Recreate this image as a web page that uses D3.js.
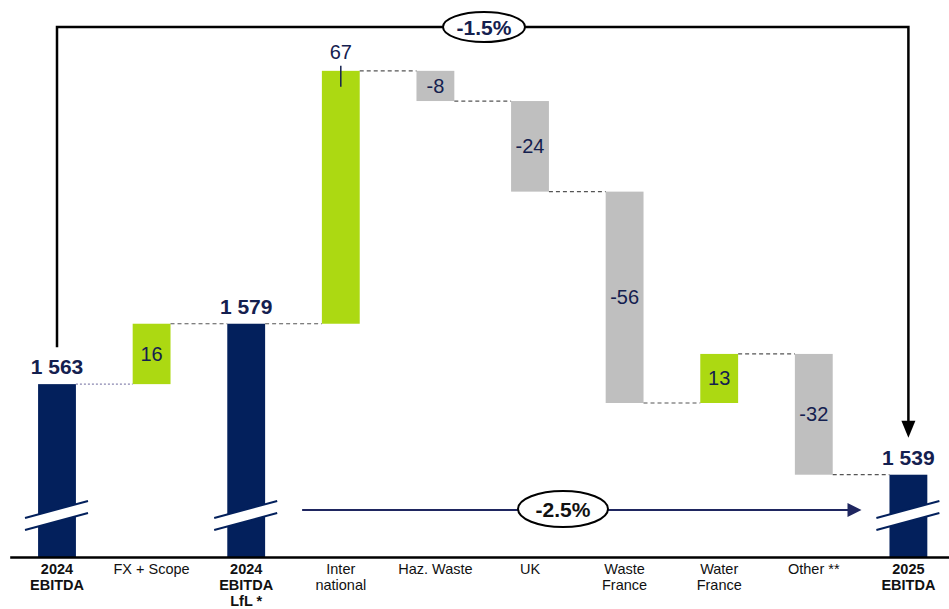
<!DOCTYPE html>
<html>
<head>
<meta charset="utf-8">
<script src="https://cdn.jsdelivr.net/npm/d3@7"></script>
<style>
  body { margin: 0; background: #fff; }
  text { font-family: Arial, 'Liberation Sans', sans-serif; }
</style>
</head>
<body>
<svg width="949" height="609"></svg>
<script>
const categories = [
  ['2024', 'EBITDA'], ['FX + Scope'], ['2024', 'EBITDA', 'LfL *'], ['Inter', 'national'],
  ['Haz. Waste'], ['UK'], ['Waste', 'France'], ['Water', 'France'], ['Other **'], ['2025', 'EBITDA']
]
const kinds = ['total', 'delta', 'total', 'delta', 'delta', 'delta', 'delta', 'delta', 'delta', 'total']
const values = [1563, 16, 1579, 67, -8, -24, -56, 13, -32, 1539]
const growthLabels = ['-1.5%', '-2.5%']

const navy = '#03205c',
  green = '#acd912',
  grey = '#bfbfbf',
  textNavy = '#14204f'

const svg = d3.select('svg'),
  width = +svg.attr('width'),
  height = +svg.attr('height')

const fmt = d3.formatLocale({ decimal: '.', thousands: ' ', grouping: [3], currency: ['', ''] }).format(',')

// running totals -> start / end of each bar
let running = 0
const bars = values.map((v, i) => {
  let b
  if (kinds[i] === 'total') {
    running = v
    b = { i, kind: 'total', v, y0: null, y1: v }
  } else {
    b = { i, kind: 'delta', v, y0: running, y1: running + v }
    running += v
  }
  return b
})

const x = d3.scaleBand()
  .domain(d3.range(categories.length))
  .range([9.7, 955.7])
  .paddingInner(0.6)
  .paddingOuter(0.3)

const y = d3.scaleLinear().domain([1517.2, 1660]).range([557, 18])
const bw = x.bandwidth()
const cx = i => x(i) + bw / 2

// bars
svg.append('g')
  .selectAll('rect')
  .data(bars)
  .enter()
  .append('rect')
  .attr('x', d => x(d.i))
  .attr('width', bw)
  .attr('y', d => d.kind === 'total' ? y(d.v) : y(Math.max(d.y0, d.y1)))
  .attr('height', d => d.kind === 'total' ? y.range()[0] - y(d.v) : Math.abs(y(d.y0) - y(d.y1)))
  .attr('fill', d => d.kind === 'total' ? navy : (d.v > 0 ? green : grey))

// connectors
svg.append('g')
  .selectAll('line')
  .data(bars.slice(0, -1))
  .enter()
  .append('line')
  .attr('x1', d => x(d.i) + bw)
  .attr('x2', d => x(d.i + 1))
  .attr('y1', d => y(d.y1))
  .attr('y2', d => y(d.y1))
  .attr('stroke', d => d.i === 0 ? '#8a87b0' : '#555')
  .attr('stroke-width', 1.2)
  .attr('stroke-dasharray', d => d.i === 0 ? '2,2' : '4,3')

// axis break marks on totals
const breakY = 515
const brk = svg.append('g')
bars.filter(d => d.kind === 'total').forEach(d => {
  const c = cx(d.i), l = c - 32, r = c + 31
  brk.append('path')
    .attr('d', `M${l},${breakY + 3}L${r},${breakY - 14}L${r},${breakY - 2}L${l},${breakY + 15}Z`)
    .attr('fill', '#fff')
  brk.append('line').attr('x1', l).attr('y1', breakY + 3).attr('x2', r).attr('y2', breakY - 14)
    .attr('stroke', navy).attr('stroke-width', 2)
  brk.append('line').attr('x1', l).attr('y1', breakY + 15).attr('x2', r).attr('y2', breakY - 2)
    .attr('stroke', navy).attr('stroke-width', 2)
})

// x axis
const axis = svg.append('g')
  .attr('transform', `translate(0,${y.range()[0]})`)
  .call(d3.axisBottom(x).tickSize(0).tickFormat(''))
axis.select('.domain').attr('stroke', '#000').attr('stroke-width', 2.5)

svg.append('g')
  .selectAll('text')
  .data(bars)
  .enter()
  .append('text')
  .attr('text-anchor', 'middle')
  .attr('font-size', 14.5)
  .attr('font-weight', d => d.kind === 'total' ? 'bold' : 'normal')
  .attr('fill', '#111')
  .each(function(d) {
    categories[d.i].forEach((line, k) => {
      d3.select(this).append('tspan')
        .attr('x', cx(d.i))
        .attr('y', 573.5 + k * 16.3)
        .text(line)
    })
  })

// value labels
svg.append('g')
  .selectAll('text')
  .data(bars)
  .enter()
  .append('text')
  .attr('text-anchor', 'middle')
  .attr('font-size', d => d.kind === 'total' ? 21 : 20)
  .attr('font-weight', d => d.kind === 'total' ? 'bold' : 'normal')
  .attr('fill', textNavy)
  .attr('x', d => cx(d.i))
  .attr('y', d => {
    if (d.kind === 'total') return y(d.v) - 10
    if (d.v > 40) return y(d.y1) - 12
    return (y(d.y0) + y(d.y1)) / 2 + 7
  })
  .text(d => d.kind === 'total' ? fmt(d.v) : String(d.v))

// leader line for the big label above its bar
bars.filter(d => d.kind === 'delta' && d.v > 40).forEach(d => {
  svg.append('line')
    .attr('x1', cx(d.i)).attr('x2', cx(d.i))
    .attr('y1', y(d.y1) - 5).attr('y2', y(d.y1) + 16)
    .attr('stroke', textNavy).attr('stroke-width', 1.5)
})

// -1.5% bracket
const first = bars[0], last = bars[bars.length - 1]
const topY = 27
svg.append('path')
  .attr('d', `M${cx(first.i)},${y(first.v) - 37}V${topY}H${cx(last.i)}V${y(last.v) - 52}`)
  .attr('fill', 'none').attr('stroke', '#000').attr('stroke-width', 2.5)
svg.append('path')
  .attr('d', `M${cx(last.i) - 7},${y(last.v) - 54}L${cx(last.i) + 7},${y(last.v) - 54}L${cx(last.i)},${y(last.v) - 37}Z`)
  .attr('fill', '#000')

const ell1x = 484
svg.append('ellipse').attr('cx', ell1x).attr('cy', topY).attr('rx', 41).attr('ry', 15)
  .attr('fill', '#fff').attr('stroke', '#000').attr('stroke-width', 2)
svg.append('text').attr('x', ell1x).attr('y', topY + 7.5).attr('text-anchor', 'middle')
  .attr('font-size', 21).attr('font-weight', 'bold').attr('fill', textNavy).text(growthLabels[0])

// -2.5% arrow
const arrowY = 510
const ax0 = x(2) + bw + 37, ax1 = x(9) - 28
svg.append('line').attr('x1', ax0).attr('x2', ax1 - 12).attr('y1', arrowY).attr('y2', arrowY)
  .attr('stroke', '#1f2660').attr('stroke-width', 2)
svg.append('path')
  .attr('d', `M${ax1 - 14},${arrowY - 7}L${ax1},${arrowY}L${ax1 - 14},${arrowY + 7}Z`)
  .attr('fill', '#1f2660')
const ell2x = 563
svg.append('ellipse').attr('cx', ell2x).attr('cy', arrowY - 1).attr('rx', 45).attr('ry', 18)
  .attr('fill', '#fff').attr('stroke', '#000').attr('stroke-width', 2)
svg.append('text').attr('x', ell2x).attr('y', arrowY + 6.5).attr('text-anchor', 'middle')
  .attr('font-size', 21).attr('font-weight', 'bold').attr('fill', '#111').text(growthLabels[1])
</script>
</body>
</html>
